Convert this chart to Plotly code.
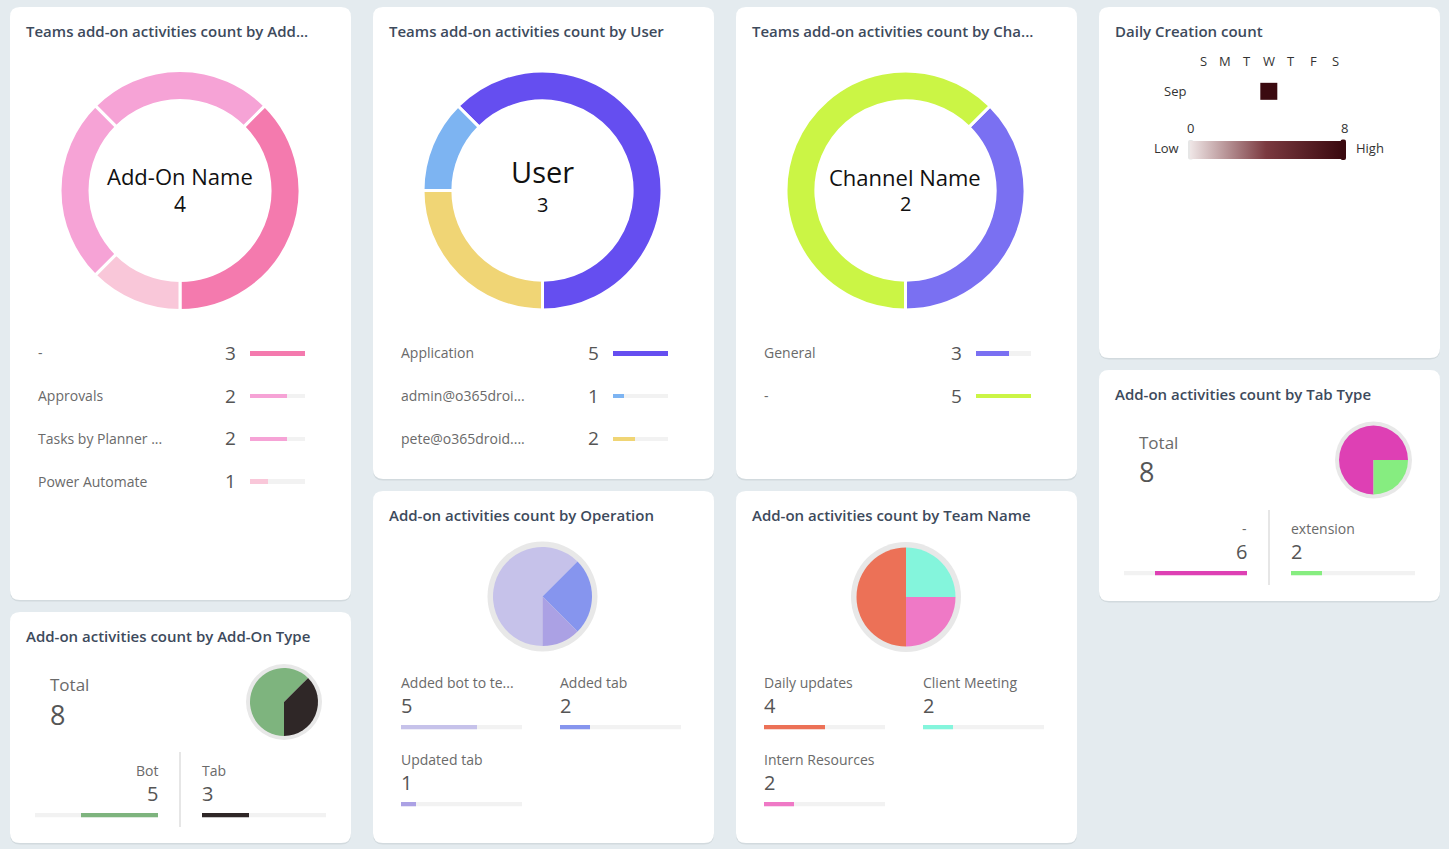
import plotly.graph_objects as go

W, H = 1449, 849
BG = "#e4ebef"
FONT = "Open Sans"
TITLE_C = "#3d4a5c"
LABEL_C = "#6a6a6a"
VALUE_C = "#555555"
TRACK_C = "#f2f2f2"

# ---------------- data ----------------
addon_names = ["-", "Approvals", "Tasks by Planner ...", "Power Automate"]
addon_counts = [3, 2, 2, 1]
addon_colors = ["#f47aae", "#f6a3d6", "#f6a3d6", "#f9c7d9"]

user_names = ["Application", "admin@o365droi...", "pete@o365droid...."]
user_counts = [5, 1, 2]
user_colors = ["#654ef0", "#7db4f2", "#f0d575"]

channel_names = ["General", "-"]
channel_counts = [3, 5]
channel_colors = ["#7a70f2", "#cbf545"]

op_names = ["Added bot to te...", "Added tab", "Updated tab"]
op_counts = [5, 2, 1]
op_colors = ["#c6c2ea", "#8695ee", "#aba1e4"]

team_names = ["Daily updates", "Client Meeting", "Intern Resources"]
team_counts = [4, 2, 2]
team_colors = ["#ec7157", "#84f5dc", "#ef79c6"]

tab_types = ["-", "extension"]
tab_counts = [6, 2]
tab_colors = ["#de40b4", "#86ed80"]

addon_types = ["Bot", "Tab"]
addon_type_counts = [5, 3]
addon_type_colors = ["#7eb47e", "#2f2727"]

weekday_labels = ["S", "M", "T", "W", "T", "F", "S"]
month_labels = ["Sep"]
daily_counts = [[None, None, None, 8, None, None, None]]
scale_min, scale_max = 0, 8
heat_colors = [[0, "#efe6e6"], [0.5, "#7b3a40"], [1, "#3b0a10"]]

# ---------------- helpers ----------------
fx = lambda x: x / W
fy = lambda y: 1 - y / H

fig = go.Figure()
shapes, annotations, layout_axes = [], [], {}
axis_n = [0]


def ann(**kw):
    kw.setdefault("showarrow", False)
    kw.setdefault("yanchor", "middle")
    kw["borderpad"] = 0
    kw["borderwidth"] = 0
    annotations.append(kw)


def text(x, y, s, size, color, xanchor="left", weight=400):
    ann(x=fx(x), y=fy(y), xref="paper", yref="paper", text=s, xanchor=xanchor,
        font=dict(family=FONT, size=size, color=color, weight=weight))


def rrect(x0, y0, x1, y1, r, color, layer="below"):
    pts = lambda x, y: f"{fx(x):.6f},{fy(y):.6f}"
    p = (f"M {pts(x0 + r, y0)} L {pts(x1 - r, y0)} Q {pts(x1, y0)} {pts(x1, y0 + r)} "
         f"L {pts(x1, y1 - r)} Q {pts(x1, y1)} {pts(x1 - r, y1)} L {pts(x0 + r, y1)} "
         f"Q {pts(x0, y1)} {pts(x0, y1 - r)} L {pts(x0, y0 + r)} Q {pts(x0, y0)} {pts(x0 + r, y0)} Z")
    shapes.append(dict(type="path", path=p, xref="paper", yref="paper",
                       fillcolor=color, line=dict(width=0), layer=layer))


def card(x0, y0, x1, y1, title):
    rrect(x0, y0 + 1.5, x1, y1 + 1.5, 10, "#d2dade")
    rrect(x0, y0, x1, y1, 10, "white")
    text(x0 + 16, y0 + 24, title, 15, TITLE_C, weight=600)


def new_axes(xd, yd, xr, yr):
    axis_n[0] += 1
    n = axis_n[0]
    xs = "" if n == 1 else str(n)
    layout_axes["xaxis" + xs] = dict(domain=[fx(xd[0]), fx(xd[1])], range=xr, visible=False,
                                     fixedrange=True, anchor="y" + xs)
    layout_axes["yaxis" + xs] = dict(domain=[fy(yd[1]), fy(yd[0])], range=yr, visible=False,
                                     fixedrange=True, anchor="x" + xs)
    return "x" + xs, "y" + xs


def donut(names, counts, colors, cx, cy, r, center_label, lab_size, num_size, lab_y, num_y):
    # first slice ends at 6 o'clock, the rest run counterclockwise from its start
    rot = 180 - 360 * counts[0] / sum(counts)
    fig.add_trace(go.Pie(
        labels=names, values=counts, hole=0.75, sort=False, direction="counterclockwise",
        rotation=rot, textinfo="none", showlegend=False,
        marker=dict(colors=colors, line=dict(color="white", width=3)),
        domain=dict(x=[fx(cx - r), fx(cx + r)], y=[fy(cy + r), fy(cy - r)])))
    text(cx, lab_y, center_label, lab_size, "#111111", xanchor="center")
    text(cx, num_y, str(len(names)), num_size, "#111111", xanchor="center")


def list_legend(names, counts, colors, rows_y, label_x, value_x, bx0, bx1):
    sp = rows_y[1] - rows_y[0]
    n = len(names)
    xr, yr = new_axes([bx0, bx1], [rows_y[0] - sp / 2, rows_y[0] + sp * (n - 0.5)],
                      [0, max(counts)], [n - 0.5, -0.5])
    idx = list(range(n))
    bw = 4.5 / sp
    fig.add_trace(go.Bar(y=idx, x=[max(counts)] * n, orientation="h", width=bw,
                         marker=dict(color=TRACK_C, line=dict(width=0)), xaxis=xr, yaxis=yr,
                         showlegend=False, hoverinfo="skip"))
    fig.add_trace(go.Bar(y=idx, x=counts, orientation="h", width=bw, text=names,
                         marker=dict(color=colors, line=dict(width=0)), xaxis=xr, yaxis=yr,
                         showlegend=False, textposition="none"))
    for i, (nm, c) in enumerate(zip(names, counts)):
        ann(x=fx(label_x), y=i, xref="paper", yref=yr, text=nm, xanchor="left",
            font=dict(family=FONT, size=14, color=LABEL_C))
        ann(x=fx(value_x), y=i, xref="paper", yref=yr, text=str(c), xanchor="right",
            font=dict(family=FONT, size=19, color=VALUE_C))


def tile(label, value, total, color, x0, x1, top_y, align="left"):
    bar_y = top_y + 45
    xr, yr = new_axes([x0, x1], [bar_y - 2.25, bar_y + 2.25],
                      [0, total] if align == "left" else [total, 0], [-0.5, 0.5])
    fig.add_trace(go.Bar(y=[0], x=[total], orientation="h", width=1,
                         marker=dict(color=TRACK_C, line=dict(width=0)), xaxis=xr, yaxis=yr,
                         showlegend=False, hoverinfo="skip"))
    fig.add_trace(go.Bar(y=[0], x=[value], orientation="h", width=1, name=label,
                         marker=dict(color=color, line=dict(width=0)), xaxis=xr, yaxis=yr,
                         showlegend=False))
    ax = x0 if align == "left" else x1
    text(ax, top_y, label, 14, LABEL_C, xanchor=align)
    text(ax, top_y + 23, str(value), 20, VALUE_C, xanchor=align)


def small_pie(names, counts, colors, cx, cy, r, ring):
    shapes.append(dict(type="circle", xref="paper", yref="paper",
                       x0=fx(cx - r - ring), x1=fx(cx + r + ring),
                       y0=fy(cy + r + ring), y1=fy(cy - r - ring),
                       fillcolor="#e8e8e8", line=dict(width=0), layer="below"))
    fig.add_trace(go.Pie(
        labels=names, values=counts, sort=False, direction="clockwise", rotation=180,
        textinfo="none", showlegend=False, marker=dict(colors=colors, line=dict(width=0)),
        domain=dict(x=[fx(cx - r), fx(cx + r)], y=[fy(cy + r), fy(cy - r)])))


# ---------------- cards ----------------
card(10, 7, 351, 600, "Teams add-on activities count by Add...")
card(373, 7, 714, 479, "Teams add-on activities count by User")
card(736, 7, 1077, 479, "Teams add-on activities count by Cha...")
card(1099, 7, 1440, 358, "Daily Creation count")
card(1099, 370, 1440, 601, "Add-on activities count by Tab Type")
card(10, 612, 351, 843, "Add-on activities count by Add-On Type")
card(373, 491, 714, 843, "Add-on activities count by Operation")
card(736, 491, 1077, 843, "Add-on activities count by Team Name")

# axis 1: unused full canvas (keeps numbering simple)
new_axes([0, W], [0, H], [0, 1], [0, 1])

# donuts
donut(addon_names, addon_counts, addon_colors, 180, 190.5, 120, "Add-On Name", 22, 21, 176, 204)
donut(user_names, user_counts, user_colors, 542.5, 190.5, 119.5, "User", 29, 20, 171, 205)
donut(channel_names, channel_counts, channel_colors, 905.5, 190.5, 119.5, "Channel Name", 22, 20, 177, 204)

list_legend(addon_names, addon_counts, addon_colors, [353, 395.7, 438.3, 481], 38, 236, 250, 305)
list_legend(user_names, user_counts, user_colors, [353, 395.7, 438.3], 401, 599, 613, 668)
list_legend(channel_names, channel_counts, channel_colors, [353, 395.7], 764, 962, 976, 1031)

# small pies
small_pie(op_names, op_counts, op_colors, 542.5, 596.5, 49.5, 5.5)
small_pie(team_names, team_counts, team_colors, 906, 597, 49.5, 5.5)
small_pie(tab_types, tab_counts, tab_colors, 1373.5, 460, 34.5, 4)
small_pie(addon_types, addon_type_counts, addon_type_colors, 284, 702, 34, 4)

# operation tiles
op_total = sum(op_counts)
tile(op_names[0], op_counts[0], op_total, op_colors[0], 401, 522, 682)
tile(op_names[1], op_counts[1], op_total, op_colors[1], 560, 681, 682)
tile(op_names[2], op_counts[2], op_total, op_colors[2], 401, 522, 759)

team_total = sum(team_counts)
tile(team_names[0], team_counts[0], team_total, team_colors[0], 764, 885, 682)
tile(team_names[1], team_counts[1], team_total, team_colors[1], 923, 1044, 682)
tile(team_names[2], team_counts[2], team_total, team_colors[2], 764, 885, 759)

# total cards
tab_total = sum(tab_counts)
text(1139, 442, "Total", 17, LABEL_C)
text(1139, 472, str(tab_total), 27, VALUE_C)
tile(tab_types[0], tab_counts[0], tab_total, tab_colors[0], 1124, 1247, 528, align="right")
tile(tab_types[1], tab_counts[1], tab_total, tab_colors[1], 1291, 1415, 528)
shapes.append(dict(type="line", xref="paper", yref="paper", x0=fx(1269), x1=fx(1269),
                   y0=fy(510), y1=fy(585), line=dict(color="#e6e6e6", width=2)))

at_total = sum(addon_type_counts)
text(50, 684, "Total", 17, LABEL_C)
text(50, 714, str(at_total), 27, VALUE_C)
tile(addon_types[0], addon_type_counts[0], at_total, addon_type_colors[0], 35, 158, 770, align="right")
tile(addon_types[1], addon_type_counts[1], at_total, addon_type_colors[1], 202, 326, 770)
shapes.append(dict(type="line", xref="paper", yref="paper", x0=fx(180), x1=fx(180),
                   y0=fy(752), y1=fy(827), line=dict(color="#e6e6e6", width=2)))

# ---------------- daily creation calendar ----------------
col0, col_sp = 1203.3, 22.0
row_c = 91.3
hx, hy = new_axes([col0 - col_sp / 2, col0 + col_sp * 6.5], [row_c - 10.5, row_c + 10.5],
                  [-0.5, 6.5], [0.5, -0.5])
fig.add_trace(go.Heatmap(
    z=daily_counts, x=list(range(7)), y=[0], zmin=scale_min, zmax=scale_max,
    colorscale=heat_colors, xgap=5, ygap=4, xaxis=hx, yaxis=hy, hoverongaps=False,
    colorbar=dict(orientation="h", x=fx(1266), xanchor="center", y=fy(149.5), yanchor="middle",
                  len=152, lenmode="pixels", thickness=17.5, outlinewidth=0,
                  showticklabels=False, ticks="", xpad=0, ypad=0)))
for i, d in enumerate(weekday_labels):
    ann(x=i, y=fy(61), xref=hx, yref="paper", text=d, xanchor="center",
        font=dict(family=FONT, size=13, color="#333333"))
for j, m in enumerate(month_labels):
    ann(x=fx(1175), y=j, xref="paper", yref=hy, text=m, xanchor="center",
        font=dict(family=FONT, size=13, color="#333333"))
text(1190, 128, str(scale_min), 13, "#333333", xanchor="center")
text(1344, 128, str(scale_max), 13, "#333333", xanchor="center")
text(1166, 148, "Low", 13, "#333333", xanchor="center")
text(1370, 148, "High", 13, "#333333", xanchor="center")
rrect(1188, 140, 1193.5, 159.5, 2, "#e6e6e6", layer="above")
rrect(1340.5, 139.5, 1346, 160, 2, "#3b0a10", layer="above")

fig.update_layout(
    width=W, height=H, margin=dict(l=0, r=0, t=0, b=0),
    paper_bgcolor=BG, plot_bgcolor="rgba(0,0,0,0)",
    barmode="overlay", bargap=0, showlegend=False,
    shapes=shapes, annotations=annotations,
    font=dict(family=FONT), **layout_axes)

fig.write_html("out.html", config={"displayModeBar": False},
               post_script="document.body.style.margin='0';document.body.style.overflow='hidden';")
